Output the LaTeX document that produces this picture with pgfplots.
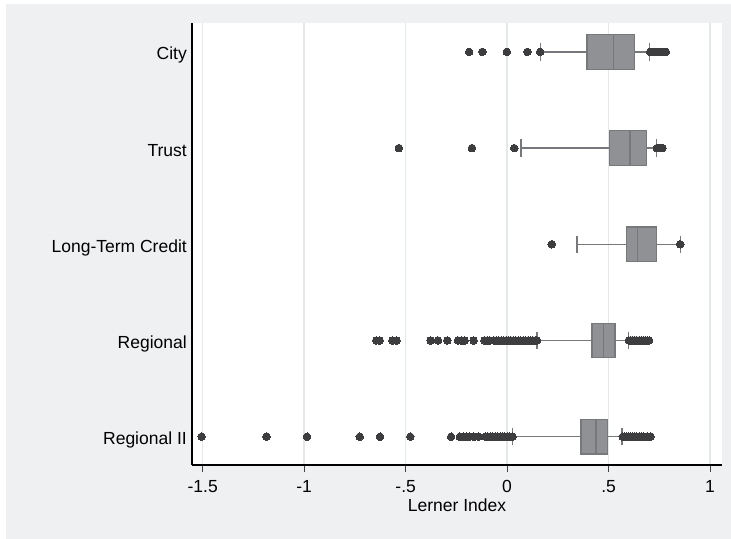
\documentclass[border=0pt]{standalone}
\usepackage{fontspec}
\setmainfont{Liberation Sans}
\usepackage{pgfplots}
\pgfplotsset{compat=1.18}
\usepgfplotslibrary{statistics}
\definecolor{bgc}{HTML}{EFF0F2}
\definecolor{gridc}{HTML}{E6E7E9}
\definecolor{boxfill}{HTML}{909195}
\definecolor{boxedge}{HTML}{77787C}
\definecolor{whisk}{HTML}{7E7F83}
\definecolor{dotc}{HTML}{3D3D3F}
\begin{document}
\fontsize{17.5bp}{21bp}\selectfont
\begin{tikzpicture}[x=1bp,y=1bp]
\useasboundingbox (0,0) rectangle (731,539);
\fill[bgc] (6,0) rectangle (731,535);
\begin{axis}[
  at={(192bp,74bp)}, anchor=south west,
  width=530bp, height=442bp, scale only axis,
  xmin=-1.5527, xmax=1.059, ymin=0.706, ymax=5.30,
  axis background/.style={fill=white},
  axis x line*=bottom, axis y line*=left,
  axis line style={black, line width=1.2bp, -},
  xtick={-1.5,-1,-0.5,0,0.5,1},
  xticklabels={{-1.5},{-1},{-.5},{0},{.5},{1}},
  ytick={1,2,3,4,5},
  yticklabels={{Regional II},{Regional},{Long-Term Credit},{Trust},{City}},
  tick align=outside,
  major tick length=7bp,
  x tick style={black!75, line width=1bp},
  y tick style={draw=none},
  xmajorgrids=true,
  major x grid style={gridc, line width=1.4bp},
  xticklabel style={anchor=base, inner sep=0pt, yshift=-21bp},
  yticklabel style={anchor=base east, inner sep=0pt, xshift=2bp, yshift=-8bp},
  xlabel={Lerner Index},
  xlabel style={at={(axis description cs:0.5,0)}, anchor=base, inner sep=0pt, yshift=-47bp},
  clip=false,
]
% City
\addplot[boxplot prepared={lower whisker=0.163, lower quartile=0.393, median=0.524, upper quartile=0.628, upper whisker=0.703, draw position=5, box extend=0.36, whisker extend=0.18}, draw=boxedge, fill=boxfill, line width=1.3bp, solid] coordinates {};
% Trust
\addplot[boxplot prepared={lower whisker=0.069, lower quartile=0.505, median=0.605, upper quartile=0.686, upper whisker=0.736, draw position=4, box extend=0.36, whisker extend=0.18}, draw=boxedge, fill=boxfill, line width=1.3bp, solid] coordinates {};
% Long-Term Credit
\addplot[boxplot prepared={lower whisker=0.344, lower quartile=0.590, median=0.641, upper quartile=0.736, upper whisker=0.853, draw position=3, box extend=0.36, whisker extend=0.18}, draw=boxedge, fill=boxfill, line width=1.3bp, solid] coordinates {};
% Regional
\addplot[boxplot prepared={lower whisker=0.147, lower quartile=0.419, median=0.476, upper quartile=0.531, upper whisker=0.599, draw position=2, box extend=0.36, whisker extend=0.18}, draw=boxedge, fill=boxfill, line width=1.3bp, solid] coordinates {};
% Regional II
\addplot[boxplot prepared={lower whisker=0.026, lower quartile=0.364, median=0.438, upper quartile=0.493, upper whisker=0.566, draw position=1, box extend=0.36, whisker extend=0.18}, draw=boxedge, fill=boxfill, line width=1.3bp, solid] coordinates {};
% outliers
\addplot[only marks, mark=*, mark size=3.8bp, mark options={fill=dotc, draw=dotc, line width=0pt}] coordinates {
(-0.187,5) (-0.122,5) (-0.001,5) (0.100,5) (0.163,5)
(0.705,5) (0.72,5) (0.735,5) (0.745,5) (0.755,5) (0.765,5) (0.775,5) (0.782,5)
(-0.533,4) (-0.173,4) (0.035,4) (0.738,4) (0.748,4) (0.758,4) (0.766,4)
(0.220,3) (0.853,3)
(-0.645,2) (-0.628,2) (-0.565,2) (-0.545,2) (-0.377,2) (-0.341,2) (-0.295,2)
(-0.242,2) (-0.225,2) (-0.209,2) (-0.165,2) (-0.111,2) (-0.098,2) (-0.086,2)
(-0.065,2) (-0.053,2) (-0.041,2) (-0.029,2) (-0.017,2) (-0.005,2) (0.007,2) (0.019,2)
(0.031,2) (0.043,2) (0.055,2) (0.067,2) (0.079,2) (0.091,2) (0.103,2) (0.115,2)
(0.127,2) (0.139,2) (0.147,2)
(0.60,2) (0.61,2) (0.62,2) (0.63,2) (0.64,2) (0.65,2) (0.66,2) (0.67,2) (0.68,2) (0.69,2) (0.70,2)
(-1.505,1) (-1.186,1) (-0.986,1) (-0.726,1) (-0.626,1) (-0.477,1) (-0.276,1)
(-0.233,1) (-0.215,1) (-0.200,1) (-0.185,1) (-0.164,1) (-0.141,1)
(-0.107,1) (-0.095,1) (-0.083,1) (-0.071,1) (-0.059,1) (-0.047,1) (-0.035,1)
(-0.023,1) (-0.011,1) (0.001,1) (0.013,1) (0.026,1)
(0.57,1) (0.58,1) (0.59,1) (0.60,1) (0.61,1) (0.62,1) (0.63,1) (0.64,1) (0.65,1) (0.66,1) (0.672,1) (0.69,1) (0.706,1)
};
\end{axis}
\end{tikzpicture}
\end{document}
